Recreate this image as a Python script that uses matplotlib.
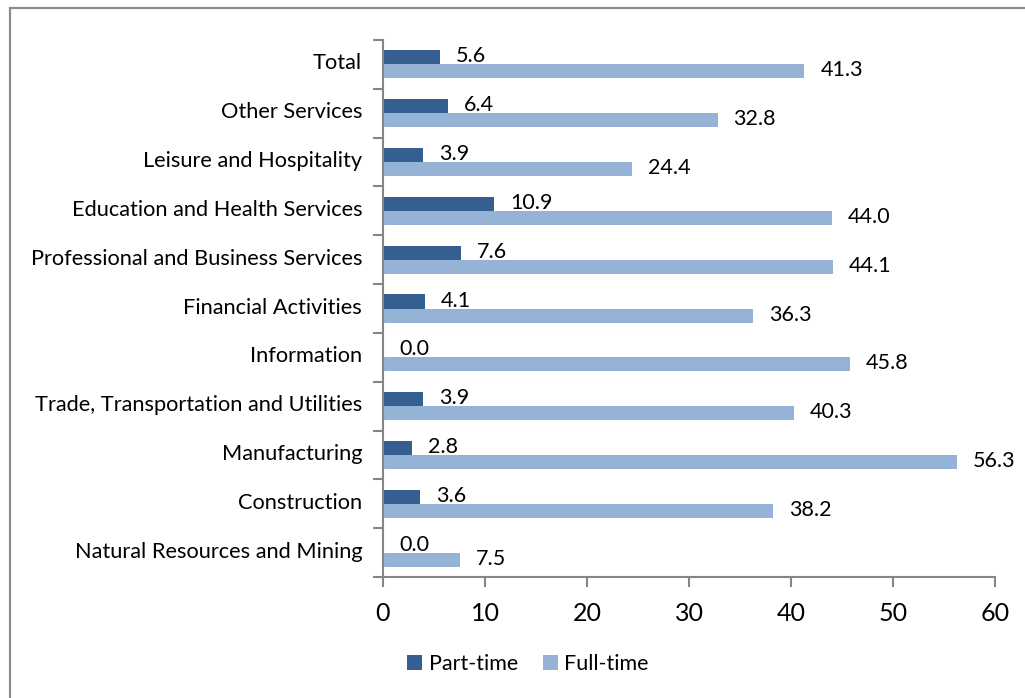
import matplotlib.pyplot as plt
from matplotlib.patches import Rectangle
from matplotlib.transforms import ScaledTranslation
import numpy as np

# Categorias (de baixo para cima, como no Excel)
industrias = ['Natural Resources and Mining', 'Construction', 'Manufacturing',
              'Trade, Transportation and Utilities', 'Information',
              'Financial Activities', 'Professional and Business Services',
              'Education and Health Services', 'Leisure and Hospitality',
              'Other Services', 'Total']
parcial = [0.0, 3.6, 2.8, 3.9, 0.0, 4.1, 7.6, 10.9, 3.9, 6.4, 5.6]
integral = [7.5, 38.2, 56.3, 40.3, 45.8, 36.3, 44.1, 44.0, 24.4, 32.8, 41.3]
xticks = [0, 10, 20, 30, 40, 50, 60]

COR_PARCIAL = '#365F91'
COR_INTEGRAL = '#95B3D7'
COR_EIXO = '#868686'

plt.rcParams['font.family'] = ['Lato', 'DejaVu Sans']

fig = plt.figure(figsize=(10.25, 6.98), dpi=100)

# Moldura cinza da area do grafico (cortada a direita e embaixo)
fig.patches.append(Rectangle((9.5 / 1025, -0.1), 1.2, 1.1 - 8 / 698, transform=fig.transFigure,
                             fill=False, edgecolor='#8c8c8c', linewidth=1.6))

ax = fig.add_axes([383 / 1025, 1 - 577 / 698, 612 / 1025, 537 / 698])

y = np.arange(len(industrias))
h = 0.287
barras_p = ax.barh(y + h / 2, parcial, height=h, color=COR_PARCIAL, label='Part-time')
barras_i = ax.barh(y - h / 2, integral, height=h, color=COR_INTEGRAL, label='Full-time')

# Rotulos de dados
for barras, valores in [(barras_p, parcial), (barras_i, integral)]:
    for b, v in zip(barras, valores):
        ax.annotate('{:.1f}'.format(v), (v, b.get_y() + b.get_height() / 2 + 0.02),
                    xytext=(16, 0), textcoords='offset pixels',
                    va='center', ha='left', fontsize=15.5)

ax.set_xlim(0, 60)
ax.set_ylim(-0.5, len(industrias) - 0.5)
ax.set_xticks(xticks)
ax.set_xticklabels([str(t) for t in xticks], fontsize=18)
ax.set_yticks(y)
ax.set_yticklabels(industrias, fontsize=15.7)
ax.set_yticks(np.arange(len(industrias) + 1) - 0.5, minor=True)
ax.tick_params(axis='y', which='major', length=0, pad=15)
ax.tick_params(axis='y', which='minor', length=7, color=COR_EIXO, width=1.5)
ax.tick_params(axis='x', length=7, color=COR_EIXO, width=1.5, pad=11)

# Sobe levemente os nomes das categorias
desloc = ScaledTranslation(0, 3 / 100, fig.dpi_scale_trans)
for rotulo in ax.get_yticklabels():
    rotulo.set_transform(rotulo.get_transform() + desloc)

for lado in ['top', 'right']:
    ax.spines[lado].set_visible(False)
for lado in ['left', 'bottom']:
    ax.spines[lado].set_color(COR_EIXO)
    ax.spines[lado].set_linewidth(1.5)

fig.legend(handles=[barras_p, barras_i], loc='center', bbox_to_anchor=(528 / 1025, 1 - 664 / 698),
           ncol=2, frameon=False, fontsize=15.5, handlelength=0.7, handleheight=0.7,
           handletextpad=0.3, columnspacing=1.15)

plt.savefig('out.png', dpi=100)
